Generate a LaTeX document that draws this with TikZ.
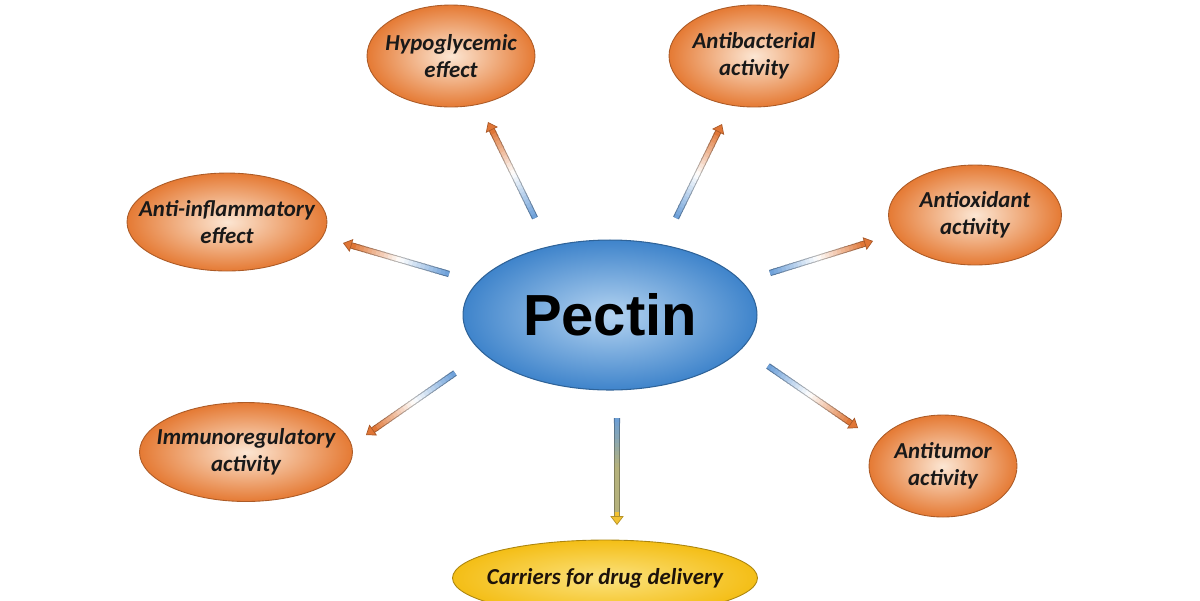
\documentclass[tikz,border=0pt]{standalone}
\usepackage{fontspec}
\usepackage{tikz}
\usetikzlibrary{arrows.meta, shapes.geometric, calc}
\newfontfamily\leaffont{Carlito}
\newfontfamily\pectinfont{Liberation Sans}
\definecolor{pectcol}{HTML}{3F84CB}
\definecolor{pectlight}{HTML}{B5D4F1}
\definecolor{leafcol}{HTML}{E57A34}
\definecolor{leaflight}{HTML}{FCE6D3}
\definecolor{carrcol}{HTML}{F4BE16}
\definecolor{carrlight}{HTML}{FBE27E}
\definecolor{arrblue}{HTML}{6A9ED8}
\definecolor{arrorange}{HTML}{E07636}
\definecolor{arryellow}{HTML}{F2C232}

% colour of a shaft piece at position #1 (0..1): #2 -> #3 -> #4
\newcommand{\segcolour}[4]{%
  \ifdim#1pt<0.5pt
    \pgfmathtruncatemacro{\pc}{200*#1}\colorlet{segcol}{#3!\pc!#2}%
  \else
    \pgfmathtruncatemacro{\pc}{200*(#1-0.5)}\colorlet{segcol}{#4!\pc!#3}%
  \fi}

% shaded arrow from #1 to #2, colours #3 (start), #4 (middle), #5 (tip)
\newcommand{\gradarrow}[5]{%
  \foreach \i in {0,...,23}{%
    \pgfmathsetmacro{\ta}{\i/24*0.92}
    \pgfmathsetmacro{\tb}{(\i+1.3)/24*0.92}
    \pgfmathsetmacro{\tm}{(\i+0.5)/24}
    \segcolour{\tm}{#3}{#4}{#5}
    \draw[segcol!72!black, line width=3.6pt] ($(#1)!\ta!(#2)$) -- ($(#1)!\tb!(#2)$);
  }
  \foreach \i in {0,...,23}{%
    \pgfmathsetmacro{\ta}{\i/24*0.92}
    \pgfmathsetmacro{\tb}{(\i+1.3)/24*0.92}
    \pgfmathsetmacro{\tm}{(\i+0.5)/24}
    \segcolour{\tm}{#3}{#4}{#5}
    \draw[segcol, line width=2.4pt] ($(#1)!\ta!(#2)$) -- ($(#1)!\tb!(#2)$);
  }
  \draw[#5, line width=2.4pt,
    -{Triangle[length=5pt, width=7.5pt, line width=0.4pt, color=#5!75!black, fill=#5]}]
    ($(#1)!0.88!(#2)$) -- (#2);
}

\begin{document}
\begin{tikzpicture}[
  x=0.02cm, y=-0.02cm,
  leaf/.style={ellipse, inner sep=0pt, draw=leafcol!75!black, line width=0.5pt,
    inner color=leaflight, outer color=leafcol},
  leaftext/.style={font=\leaffont\bfseries\itshape\fontsize{13}{15.5}\selectfont,
    align=center, text=black!90},
  hub/.style={ellipse, inner sep=0pt, draw=pectcol!75!black, line width=0.6pt,
    inner color=pectlight, outer color=pectcol,
    font=\pectinfont\bfseries\fontsize{33}{36}\selectfont},
]
\useasboundingbox (0,0) rectangle (1200,600);
\clip (0,0) rectangle (1200,600);

% =================== centre ===================
\node[hub, minimum width=5.88cm, minimum height=3cm] (pectin) at (610,315) {Pectin};

% =================== effects ===================
\node[leaf, minimum width=3.36cm, minimum height=2.04cm,
  label={[leaftext]center:Hypoglycemic\\effect}] (hypo) at (451,56) {};
\node[leaf, minimum width=3.4cm, minimum height=2.04cm,
  label={[leaftext]center:Antibacterial\\activity}] (antibac) at (754,56) {};
\node[leaf, minimum width=4.0cm, minimum height=1.96cm,
  label={[leaftext]center:Anti-inflammatory\\effect}] (antiinf) at (227,222) {};
\node[leaf, minimum width=3.46cm, minimum height=2.0cm,
  label={[leaftext]center:Antioxidant\\activity}] (antiox) at (975,215) {};
\node[leaf, minimum width=4.26cm, minimum height=1.98cm,
  label={[leaftext]center:Immunoregulatory\\activity}] (immuno) at (246,452) {};
\node[leaf, minimum width=2.96cm, minimum height=2.04cm,
  label={[leaftext]center:Antitumor\\activity}] (antitumor) at (943,466) {};

% drug carrier
\node[ellipse, inner sep=0pt, minimum width=6.1cm, minimum height=1.52cm,
  draw=carrcol!70!black, line width=0.5pt, inner color=carrlight, outer color=carrcol,
  label={[leaftext, text=black!85!brown]center:Carriers for drug delivery}] (carriers) at (605,578) {};

% =================== arrow ends ===================
\coordinate (p-hypo) at ($(pectin)+(-75,-97)$);
\coordinate (hypo-in) at ($(hypo)+(37,66)$);
\coordinate (p-antibac) at ($(pectin)+(66,-97)$);
\coordinate (antibac-in) at ($(antibac)+(-32,68)$);
\coordinate (p-antiinf) at ($(pectin)+(-161,-41)$);
\coordinate (antiinf-in) at ($(antiinf)+(116,21)$);
\coordinate (p-antiox) at ($(pectin)+(160,-42)$);
\coordinate (antiox-in) at ($(antiox)+(-102,26)$);
\coordinate (p-immuno) at ($(pectin)+(-155,58)$);
\coordinate (immuno-in) at ($(immuno)+(120,-17)$);
\coordinate (p-antitumor) at ($(pectin)+(158,51)$);
\coordinate (antitumor-in) at ($(antitumor)+(-85,-38)$);
\coordinate (p-carriers) at ($(pectin)+(7,103)$);
\coordinate (carriers-in) at ($(carriers)+(12,-53)$);

\gradarrow{p-hypo}{hypo-in}{arrblue}{white}{arrorange}
\gradarrow{p-antibac}{antibac-in}{arrblue}{white}{arrorange}
\gradarrow{p-antiinf}{antiinf-in}{arrblue}{white}{arrorange}
\gradarrow{p-antiox}{antiox-in}{arrblue}{white}{arrorange}
\gradarrow{p-immuno}{immuno-in}{arrblue}{white}{arrorange}
\gradarrow{p-antitumor}{antitumor-in}{arrblue}{white}{arrorange}
\gradarrow{p-carriers}{carriers-in}{arrblue}{arryellow!55!arrblue}{arryellow}

\end{tikzpicture}
\end{document}
